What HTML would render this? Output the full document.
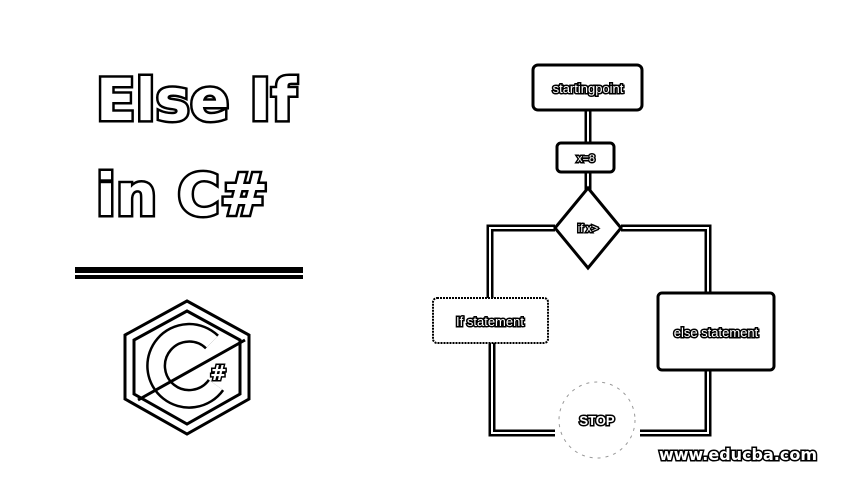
<!DOCTYPE html>
<html><head><style>body{margin:0;background:#fff}svg{display:block}</style></head><body>
<svg width="842" height="494" viewBox="0 0 842 494" xmlns="http://www.w3.org/2000/svg">
<g font-family="DejaVu Sans, sans-serif" font-weight="bold" fill="#fff" stroke="#000" stroke-width="5" paint-order="stroke">
<text x="96" y="120" font-size="58">Else If</text>
<text x="96" y="215" font-size="58">in C#</text>
</g>
<rect x="75" y="267" width="228" height="6" fill="#000"/>
<rect x="75" y="275" width="228" height="4" fill="#000"/>
<g fill="none" stroke="#000" stroke-width="3">
<polygon points="187,301 249,335 249,399 187,434 125,399 125,335"/>
<polygon points="187,311 240,340 240,394 187,424 134,394 134,340"/>
</g>
<path d="M212,342 A33,33 0 1 0 216,385" fill="none" stroke="#000" stroke-width="20"/>
<path d="M212,342 A33,33 0 1 0 216,385" fill="none" stroke="#fff" stroke-width="15"/>
<line x1="138" y1="400" x2="245" y2="340" stroke="#000" stroke-width="3"/>
<text x="210" y="380" font-family="DejaVu Sans, sans-serif" font-weight="bold" font-size="20" fill="#fff" stroke="#000" stroke-width="3" paint-order="stroke">#</text>
<g fill="none" stroke="#000" stroke-width="7">
<path d="M588,110 V143 M588,172 V190 M555,228 H490 V298 M621,228 H708 V293 M492,343 V433 H555 M708,370 V433 H640"/>
</g>
<g fill="none" stroke="#fff" stroke-width="2">
<path d="M588,110 V143 M588,172 V190 M555,228 H490 V298 M621,228 H708 V293 M492,343 V433 H555 M708,370 V433 H640"/>
</g>
<g fill="#fff" stroke="#000" stroke-width="3">
<rect x="533" y="65" width="109" height="45" rx="5"/>
<rect x="557" y="143" width="57" height="29" rx="4"/>
<polygon points="588,188 621,228 588,268 555,228"/>
<rect x="433" y="298" width="115" height="45" rx="4" stroke-width="2" stroke-dasharray="2 1"/>
<rect x="658" y="293" width="116" height="77" rx="4"/>
</g>
<circle cx="597" cy="420" r="38" fill="#fff" stroke="#999" stroke-width="1" stroke-dasharray="3 5"/>
<g font-family="Liberation Sans, sans-serif" font-size="13" fill="#fff" stroke="#000" stroke-width="3" paint-order="stroke" text-anchor="middle">
<text x="588" y="93">startingpoint</text>
<text x="586" y="162" font-size="11">x=8</text>
<text x="588" y="232" font-size="11">if x&gt;</text>
<text x="490" y="326">If statement</text>
<text x="716" y="337">else statement</text>
<text x="597" y="425" font-weight="bold">STOP</text>
</g>
<text x="738" y="460" font-family="DejaVu Sans, sans-serif" font-weight="bold" font-size="16" fill="#fff" stroke="#000" stroke-width="3" paint-order="stroke" text-anchor="middle">www.educba.com</text>
</svg>
</body></html>
